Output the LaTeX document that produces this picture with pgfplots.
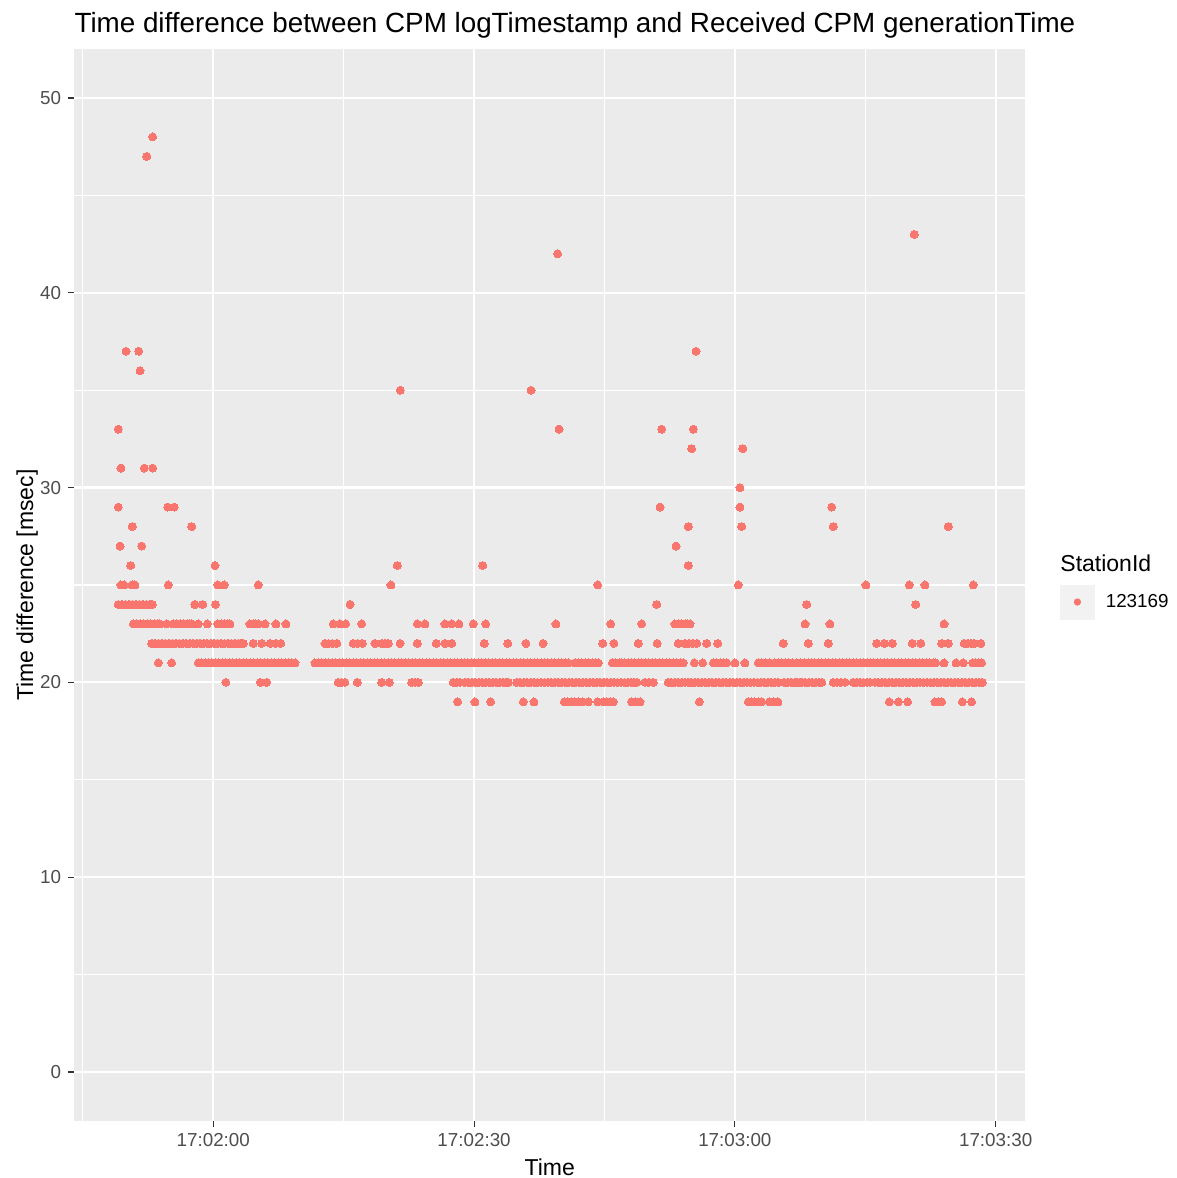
\documentclass[border=0pt]{standalone}
\usepackage{fontspec}
\setmainfont{Liberation Sans}
\usepackage{pgfplots}
\pgfplotsset{compat=1.18}
\definecolor{panelbg}{HTML}{EBEBEB}
\definecolor{ptcol}{HTML}{F8766D}
\definecolor{labgray}{HTML}{4D4D4D}
\definecolor{tickgray}{HTML}{333333}
\definecolor{keybg}{HTML}{F2F2F2}
\begin{document}
\begin{tikzpicture}
\useasboundingbox (-37.1pt,-28.65pt) rectangle (551.4pt,560.35pt);
\begin{axis}[
  scale only axis,
  width=475.5pt, height=535.7pt,
  xmin=-16.0, xmax=93.4, ymin=-2.5, ymax=52.5,
  axis background/.style={fill=panelbg},
  axis line style={draw=none},
  xtick={0,30,60,90},
  xticklabels={17:02:00,17:02:30,17:03:00,17:03:30},
  minor xtick={-15,15,45,75},
  ytick={0,10,20,30,40,50},
  minor ytick={5,15,25,35,45},
  grid=both,
  major grid style={white, line width=1.1pt},
  minor grid style={white, line width=0.55pt},
  tick align=outside,
  tick pos=left,
  major tick length=3pt,
  minor tick length=0pt,
  major tick style={tickgray, line width=0.55pt},
  tick label style={font=\fontsize{9.4}{11}\selectfont, text=labgray},
  /pgf/number format/assume math mode=true,
  xlabel={Time}, ylabel={Time difference [msec]},
  label style={font=\fontsize{11.5}{13}\selectfont},
  xlabel style={at={(axis description cs:0.5,-0.0511)}, anchor=base},
  ylabel style={at={(axis description cs:-0.0433,0.5)}, anchor=base},
  title={Time difference between CPM logTimestamp and Received CPM generationTime},
  title style={at={(axis description cs:0,1.0161)}, anchor=base west, yshift=-6pt, font=\fontsize{13.9}{16}\selectfont, inner sep=0pt},
  legend style={at={(axis description cs:1.0366,0.4841)}, anchor=west, draw=none, fill=none, inner sep=0pt, outer sep=0pt, row sep=0pt, column sep=0pt, font=\fontsize{9.4}{11}\selectfont, nodes={inner sep=0pt, outer sep=0pt}},
  legend cell align=left,
]
\addplot[only marks, mark=*, mark size=2pt, mark options={fill=ptcol, draw=ptcol, line width=0pt},
  legend image code/.code={
    \fill[keybg] (0pt,-8.5pt) rectangle (17pt,8.5pt);
    \fill[ptcol] (8.5pt,0pt) circle (1.6pt);
    \path (22.5pt,0pt);
  }] coordinates {
% value 48, 47, 43, 42
(-6.97,48) (-7.66,47) (80.64,43) (39.62,42)
% 37, 36, 35
(-10.04,37) (-8.58,37) (55.53,37) (-8.43,36) (21.51,35) (36.55,35)
% 33, 32, 31, 30
(-10.93,33) (39.77,33) (51.58,33) (55.22,33)
(55.03,32) (60.90,32)
(-10.62,31) (-7.94,31) (-6.97,31)
(60.59,30)
% 29
(-10.93,29) (-5.25,29) (-4.49,29) (51.39,29) (60.59,29) (71.14,29)
% 28
(-9.32,28) (-2.48,28) (54.64,28) (60.78,28) (71.32,28) (84.55,28)
% 27
(-10.73,27) (-8.24,27) (53.23,27)
% 26
(-9.50,26) (0.20,26) (21.17,26) (30.99,26) (54.64,26)
% 25
(-10.62,25) (-10.27,25) (-9.35,25) (-9.01,25) (-5.18,25) (0.51,25) (1.27,25) (5.18,25)
(20.44,25) (44.22,25) (60.39,25) (75.08,25) (80.07,25) (81.87,25) (87.43,25)
% 24
(-10.93,24) (-10.5,24) (-10.1,24) (-9.7,24) (-9.3,24) (-8.9,24) (-8.5,24) (-8.1,24) (-7.7,24) (-7.3,24) (-7.02,24)
(-2.11,24) (-1.22,24) (0.25,24) (15.73,24) (51.01,24) (68.26,24) (80.80,24)
% 23
(-9.2,23) (-8.8,23) (-8.4,23) (-8.0,23) (-7.6,23) (-7.2,23) (-6.8,23) (-6.45,23) (-6.13,23)
(-5.36,23)
(-4.6,23) (-4.2,23) (-3.8,23) (-3.4,23) (-3.0,23) (-2.7,23) (-2.48,23)
(-1.73,23) (-0.69,23)
(0.51,23) (0.9,23) (1.3,23) (1.65,23) (1.92,23)
(4.22,23) (4.6,23) (4.9,23) (5.18,23)
(5.95,23) (7.21,23) (8.36,23) (13.80,23) (14.57,23) (15.23,23) (17.07,23) (23.47,23) (24.35,23)
(26.65,23) (27.42,23) (28.26,23) (29.91,23) (31.34,23) (39.42,23) (45.72,23) (49.28,23)
(53.11,23) (53.5,23) (53.9,23) (54.3,23) (54.6,23) (54.84,23)
(68.07,23) (70.94,23) (84.06,23)
% 22
(-7.09,22) (-6.7,22) (-6.3,22) (-5.9,22) (-5.5,22) (-5.1,22) (-4.7,22) (-4.3,22) (-3.9,22) (-3.5,22)
(-3.1,22) (-2.7,22) (-2.3,22) (-1.9,22) (-1.5,22) (-1.1,22) (-0.7,22) (-0.3,22) (0.1,22) (0.5,22)
(0.9,22) (1.3,22) (1.7,22) (2.1,22) (2.5,22) (2.9,22) (3.2,22) (3.45,22)
(4.6,22) (5.57,22) (6.53,22) (7.2,22) (7.75,22)
(12.85,22) (13.25,22) (13.7,22) (14.2,22)
(16.1,22) (16.6,22) (17.14,22)
(18.60,22)
(19.37,22) (19.75,22) (20.13,22)
(21.48,22) (23.47,22) (25.65,22) (26.65,22) (27.42,22) (31.17,22) (33.87,22) (35.97,22) (37.93,22)
(44.79,22) (46.09,22) (48.89,22) (51.06,22) (53.49,22)
(54.26,22) (54.7,22) (55.15,22) (55.61,22)
(56.76,22) (58.02,22) (65.57,22) (68.45,22) (70.75,22)
(76.32,22) (77.19,22) (78.11,22) (80.41,22) (81.38,22) (83.79,22) (84.55,22)
(86.39,22) (86.8,22) (87.2,22) (87.54,22) (88.31,22)
% 21
(-6.33,21) (-4.79,21)
(-1.73,21) (-1.35,21) (-0.95,21) (-0.55,21) (-0.15,21) (0.25,21) (0.65,21) (1.05,21) (1.45,21) (1.85,21)
(2.25,21) (2.65,21) (3.05,21) (3.45,21) (3.85,21) (4.25,21) (4.65,21) (5.05,21) (5.45,21) (5.85,21)
(6.25,21) (6.65,21) (7.05,21) (7.45,21) (7.85,21) (8.25,21) (8.65,21) (9.05,21) (9.40,21)
(11.7,21) (12.1,21) (12.5,21) (12.9,21) (13.3,21) (13.7,21) (14.1,21) (14.5,21) (14.9,21) (15.3,21)
(15.7,21) (16.1,21) (16.5,21) (16.9,21) (17.3,21) (17.7,21) (18.1,21) (18.5,21) (18.9,21) (19.3,21)
(19.7,21) (20.1,21) (20.5,21) (20.9,21) (21.3,21) (21.7,21) (22.1,21) (22.5,21) (22.9,21) (23.3,21)
(23.7,21) (24.1,21) (24.5,21) (24.9,21) (25.3,21) (25.7,21) (26.1,21) (26.5,21) (26.9,21) (27.3,21)
(27.7,21) (28.1,21) (28.5,21) (28.9,21) (29.3,21) (29.7,21) (30.1,21) (30.5,21) (30.9,21) (31.3,21)
(31.7,21) (32.1,21) (32.5,21) (32.9,21) (33.3,21) (33.7,21) (34.1,21) (34.5,21) (34.9,21) (35.3,21)
(35.7,21) (36.1,21) (36.5,21) (36.9,21) (37.3,21) (37.7,21) (38.1,21) (38.5,21) (38.9,21) (39.3,21)
(39.7,21) (40.1,21) (40.5,21) (40.84,21)
(41.62,21) (42.0,21) (42.4,21) (42.8,21) (43.2,21) (43.6,21) (44.0,21) (44.29,21)
(45.9,21) (46.3,21) (46.7,21) (47.0,21) (47.28,21)
(47.74,21) (48.1,21) (48.5,21) (48.9,21) (49.3,21) (49.7,21) (50.1,21) (50.5,21) (50.9,21) (51.3,21)
(51.7,21) (52.1,21) (52.5,21) (52.9,21) (53.3,21) (53.7,21) (54.07,21)
(55.33,21) (56.30,21)
(57.52,21) (57.9,21) (58.3,21) (58.7,21) (59.06,21)
(60.01,21) (61.16,21)
(62.69,21) (63.1,21) (63.55,21) (64.04,21)
(64.61,21) (65.0,21) (65.4,21) (65.8,21) (66.2,21) (66.61,21)
(67.11,21) (67.55,21) (68.0,21) (68.45,21)
(68.84,21) (69.2,21) (69.6,21) (70.0,21) (70.4,21) (70.8,21) (71.2,21) (71.6,21) (72.0,21) (72.4,21)
(72.8,21) (73.2,21) (73.6,21) (74.0,21) (74.4,21) (74.8,21) (75.2,21) (75.6,21) (76.0,21) (76.4,21)
(76.8,21) (77.2,21) (77.6,21) (78.0,21) (78.4,21) (78.8,21) (79.2,21) (79.6,21) (80.0,21) (80.4,21)
(80.8,21) (81.2,21) (81.6,21) (82.0,21) (82.4,21) (82.8,21) (83.1,21)
(84.06,21) (85.44,21) (86.28,21)
(87.36,21) (87.7,21) (88.05,21) (88.39,21)
% 20
(1.46,20) (5.42,20) (6.14,20)
(14.38,20) (14.75,20) (15.15,20)
(16.57,20) (19.37,20) (20.25,20)
(22.82,20) (23.2,20) (23.58,20)
(27.61,20) (28.0,20) (28.38,20)
(28.95,20) (29.35,20) (29.75,20) (30.15,20) (30.55,20) (30.95,20) (31.35,20) (31.75,20) (32.15,20) (32.55,20)
(32.95,20) (33.35,20) (33.65,20) (33.94,20)
(34.9,20) (35.3,20) (35.7,20) (36.1,20) (36.5,20) (36.9,20) (37.3,20) (37.7,20) (38.1,20) (38.5,20)
(38.9,20) (39.3,20) (39.7,20) (40.1,20) (40.5,20) (40.9,20) (41.3,20) (41.7,20) (42.1,20) (42.5,20)
(42.9,20) (43.3,20) (43.7,20) (44.1,20) (44.5,20) (44.9,20) (45.3,20) (45.7,20) (46.1,20) (46.5,20)
(46.9,20) (47.3,20) (47.7,20) (48.1,20) (48.4,20) (48.71,20)
(49.66,20) (50.1,20) (50.62,20)
(52.34,20) (52.7,20) (53.1,20) (53.5,20) (53.9,20) (54.26,20)
(54.64,20) (55.0,20) (55.4,20) (55.8,20) (56.2,20) (56.6,20) (57.0,20) (57.4,20) (57.8,20) (58.2,20)
(58.6,20) (59.0,20) (59.4,20) (59.8,20) (60.2,20) (60.6,20) (61.0,20) (61.4,20) (61.8,20) (62.2,20)
(62.6,20) (63.0,20) (63.4,20) (63.8,20) (64.2,20) (64.6,20) (65.0,20)
(65.69,20) (66.1,20) (66.5,20) (66.9,20) (67.2,20) (67.5,20)
(67.69,20) (68.1,20) (68.5,20) (68.9,20) (69.3,20) (69.7,20) (70.02,20)
(71.32,20) (71.75,20) (72.2,20) (72.67,20)
(73.62,20) (74.0,20) (74.4,20) (74.8,20) (75.2,20) (75.54,20)
(76.12,20) (76.5,20) (76.9,20) (77.3,20) (77.7,20) (78.1,20) (78.5,20) (78.9,20) (79.3,20) (79.7,20)
(80.1,20) (80.5,20) (80.9,20) (81.3,20) (81.7,20) (82.1,20) (82.5,20) (82.9,20) (83.3,20) (83.7,20)
(84.1,20) (84.5,20) (84.9,20) (85.3,20) (85.7,20) (86.1,20) (86.5,20) (86.9,20) (87.3,20) (87.7,20)
(88.1,20) (88.46,20)
% 19
(28.11,19) (30.10,19) (31.91,19) (35.66,19) (36.89,19)
(40.38,19) (40.8,19) (41.2,19) (41.6,19) (42.0,19) (42.45,19)
(43.14,19) (44.22,19)
(44.86,19) (45.25,19) (45.65,19) (46.01,19)
(48.13,19) (48.6,19) (49.09,19)
(55.91,19)
(61.54,19) (61.9,19) (62.3,19) (62.7,19) (63.08,19)
(63.96,19) (64.45,19) (64.96,19)
(77.76,19) (78.80,19) (79.88,19)
(83.02,19) (83.4,19) (83.79,19)
(86.16,19) (87.24,19)
};
\addlegendentry{123169}
\end{axis}
\node[anchor=west, inner sep=0pt, font=\fontsize{11.5}{13}\selectfont] at (492.9pt,278.8pt) {StationId};
\end{tikzpicture}
\end{document}
